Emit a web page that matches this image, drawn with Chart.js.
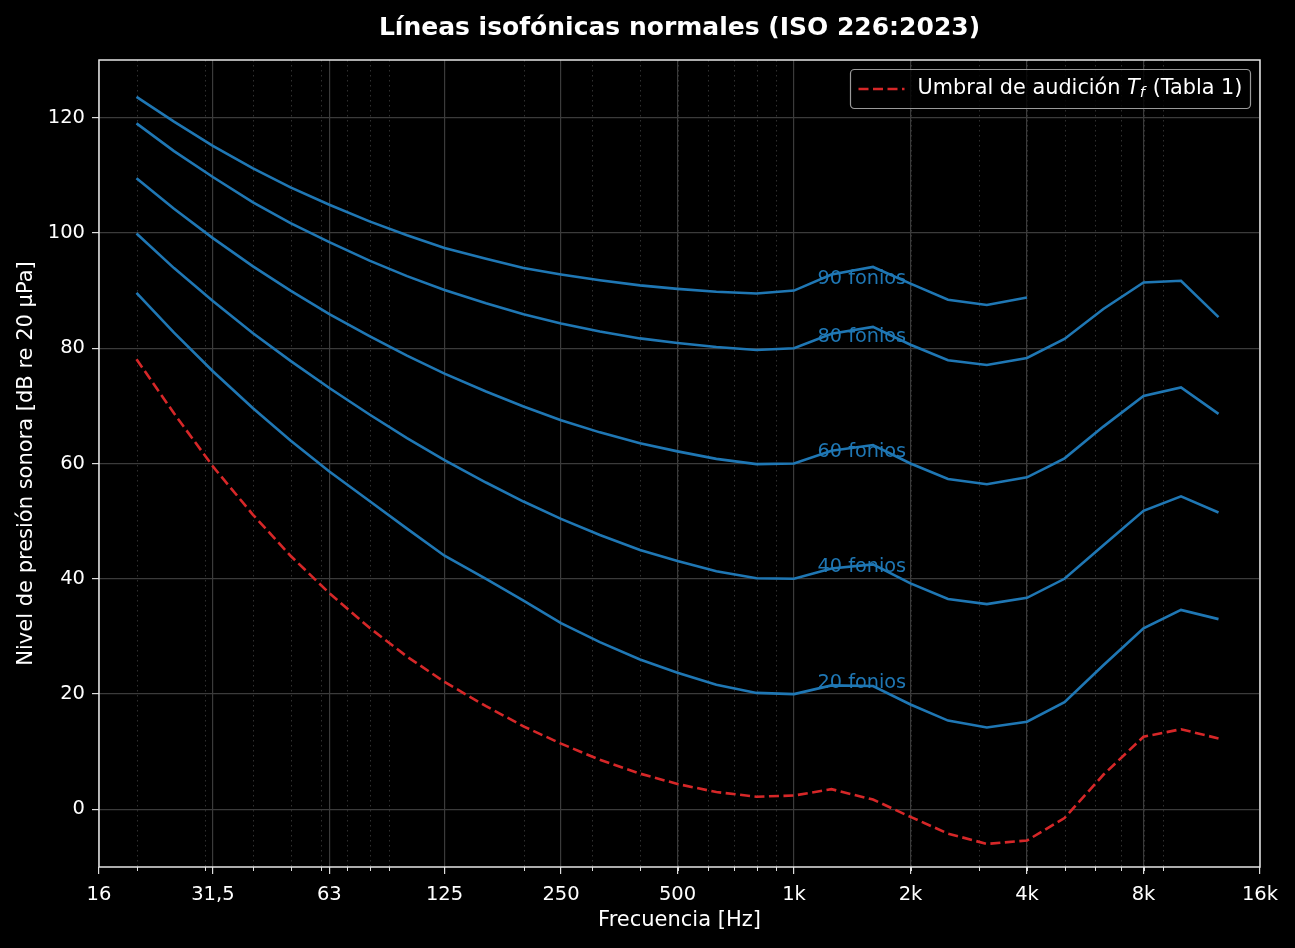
<!DOCTYPE html>
<html>
<head>
<meta charset="utf-8">
<script src="https://cdn.jsdelivr.net/npm/chart.js@4.4.1/dist/chart.umd.min.js"></script>
<style>
  html, body { margin: 0; padding: 0; background: #000; }
  #wrap { width: 1295px; height: 948px; }
</style>
</head>
<body>
<div id="wrap"><canvas id="iso_chart"></canvas></div>
<script>
// frecuencias normalizadas (Hz)
const freqs = [20, 25, 31.5, 40, 50, 63, 80, 100, 125, 160, 200, 250, 315, 400, 500,
    630, 800, 1000, 1250, 1600, 2000, 2500, 3150, 4000, 5000, 6300, 8000, 10000, 12500];

// umbral de audicion Tf (Tabla 1)
const threshold = [78.1, 68.7, 59.5, 51.1, 44.0, 37.5, 31.5, 26.5, 22.1, 17.9, 14.4, 11.4, 8.6, 6.2, 4.4,
    3.0, 2.2, 2.4, 3.5, 1.7, -1.3, -4.2, -6.0, -5.4, -1.5, 6.0, 12.6, 13.9, 12.3];

const phon20 = [89.6, 82.7, 76.0, 69.6, 64.0, 58.6, 53.5, 48.7, 44.0, 40.0, 36.2, 32.3, 29.0, 26.0, 23.7,
    21.6, 20.2, 20.0, 21.5, 21.4, 18.2, 15.4, 14.2, 15.2, 18.6, 25.0, 31.4, 34.6, 33.0];
const phon40 = [99.9, 93.9, 88.2, 82.6, 77.8, 73.1, 68.5, 64.4, 60.6, 56.7, 53.4, 50.4, 47.6, 45.0, 43.1,
    41.3, 40.1, 40.0, 41.8, 42.5, 39.2, 36.5, 35.6, 36.7, 40.0, 45.8, 51.8, 54.3, 51.5];
const phon60 = [109.5, 104.2, 99.1, 94.2, 90.0, 85.9, 82.1, 78.7, 75.6, 72.5, 69.9, 67.5, 65.4, 63.5, 62.1,
    60.8, 59.9, 60.0, 62.2, 63.2, 60.0, 57.3, 56.4, 57.6, 60.9, 66.4, 71.7, 73.2, 68.6];
const phon80 = [119.0, 114.2, 109.7, 105.3, 101.7, 98.4, 95.2, 92.5, 90.1, 87.8, 85.9, 84.3, 82.9, 81.7, 80.9,
    80.2, 79.7, 80.0, 82.5, 83.7, 80.6, 77.9, 77.1, 78.3, 81.6, 86.8, 91.4, 91.7, 85.4];
// 90 fonios solo llega hasta 4 kHz
const phon90 = [123.6, 119.3, 115.1, 111.2, 107.9, 104.9, 102.0, 99.6, 97.4, 95.5, 93.9, 92.8, 91.8, 90.9, 90.3,
    89.8, 89.5, 90.0, 92.8, 94.1, 91.2, 88.4, 87.5, 88.8];

const contours = [
    { phon: 20, values: phon20 },
    { phon: 40, values: phon40 },
    { phon: 60, values: phon60 },
    { phon: 80, values: phon80 },
    { phon: 90, values: phon90 },
];

const xTicks = [16, 31.5, 63, 125, 250, 500, 1000, 2000, 4000, 8000, 16000];
const xTickLabels = ["16", "31,5", "63", "125", "250", "500", "1k", "2k", "4k", "8k", "16k"];
const yTicks = [0, 20, 40, 60, 80, 100, 120];

const labelFreq = 1150;   // donde se escriben las etiquetas "xx fonios"

const FONT = "'DejaVu Sans', 'Liberation Sans', sans-serif";
const BLUE = "#1f77b4";
const RED = "#d62728";
const GRID = "#3b3b3b";

// minor ticks del eje log: 2..9 x 10^n
const minorTicks = [];
for (let d = 10; d <= 1000; d *= 10) {
    for (let m = 2; m <= 9; m++) {
        const v = m * d;
        if (v > 16 && v < 16000) minorTicks.push(v);
    }
}

const toPoints = (vals) => vals.map((v, i) => ({ x: freqs[i], y: v }));

const datasets = contours.map((c) => ({
    label: c.phon + " fonios",
    data: toPoints(c.values),
    borderColor: BLUE,
    backgroundColor: BLUE,
    borderWidth: 2.6,
    pointRadius: 0,
    tension: 0,
    fill: false,
}));
datasets.push({
    label: "Umbral de audición Tf (Tabla 1)",
    data: toPoints(threshold),
    borderColor: RED,
    backgroundColor: RED,
    borderWidth: 2.6,
    borderDash: [10, 4.5],
    pointRadius: 0,
    tension: 0,
    fill: false,
});

const extras = {
    id: "extras",
    beforeDatasetsDraw(chart) {
        const { ctx, chartArea, scales } = chart;
        const xs = scales.x;
        ctx.save();
        // rejilla menor punteada
        ctx.strokeStyle = "#303030";
        ctx.lineWidth = 1;
        ctx.setLineDash([1.5, 3.5]);
        minorTicks.forEach((v) => {
            const px = Math.round(xs.getPixelForValue(v)) + 0.5;
            ctx.beginPath();
            ctx.moveTo(px, chartArea.top);
            ctx.lineTo(px, chartArea.bottom);
            ctx.stroke();
        });
        ctx.setLineDash([]);
        // marcas menores
        ctx.strokeStyle = "#dddddd";
        ctx.lineWidth = 1;
        minorTicks.forEach((v) => {
            const px = Math.round(xs.getPixelForValue(v)) + 0.5;
            ctx.beginPath();
            ctx.moveTo(px, chartArea.bottom);
            ctx.lineTo(px, chartArea.bottom + 4);
            ctx.stroke();
        });
        ctx.restore();
    },
    afterDraw(chart) {
        const { ctx, chartArea, scales } = chart;
        const xs = scales.x, ys = scales.y;
        ctx.save();
        // marco
        ctx.strokeStyle = "#e6e6e6";
        ctx.lineWidth = 1.5;
        ctx.strokeRect(chartArea.left, chartArea.top, chartArea.right - chartArea.left, chartArea.bottom - chartArea.top);

        // etiquetas de cada curva
        ctx.fillStyle = BLUE;
        ctx.font = "19.3px " + FONT;
        ctx.textAlign = "left";
        ctx.textBaseline = "middle";
        contours.forEach((c) => {
            ctx.fillText(c.phon + " fonios", xs.getPixelForValue(labelFreq), ys.getPixelForValue(c.phon + 2));
        });

        // leyenda
        const bx = 850.5, by = 69.5, bw = 400, bh = 39;
        ctx.fillStyle = "rgba(0,0,0,0.8)";
        ctx.strokeStyle = "#9a9a9a";
        ctx.lineWidth = 1.2;
        ctx.beginPath();
        ctx.roundRect(bx, by, bw, bh, 4);
        ctx.fill();
        ctx.stroke();
        const ly = by + bh / 2;
        ctx.strokeStyle = RED;
        ctx.lineWidth = 2.6;
        ctx.setLineDash([10, 4.5]);
        ctx.beginPath();
        ctx.moveTo(bx + 8, ly);
        ctx.lineTo(bx + 54, ly);
        ctx.stroke();
        ctx.setLineDash([]);
        ctx.fillStyle = "#ffffff";
        ctx.textBaseline = "middle";
        let tx = bx + 67;
        const parts = [
            { t: "Umbral de audición ", f: "20.8px " + FONT, dy: 0 },
            { t: "T", f: "italic 20.8px " + FONT, dy: 0 },
            { t: "f", f: "italic 14.8px " + FONT, dy: 4.5 },
            { t: " (Tabla 1)", f: "20.8px " + FONT, dy: 0 },
        ];
        parts.forEach((p) => {
            ctx.font = p.f;
            ctx.fillText(p.t, tx, ly + p.dy);
            tx += ctx.measureText(p.t).width + (p.t === "f" ? 1 : 0);
        });
        ctx.restore();
    },
};

const config = {
    type: "line",
    data: { datasets },
    options: {
        responsive: false,
        animation: false,
        maintainAspectRatio: false,
        layout: { padding: { top: 0, right: 35, left: 0, bottom: 0 } },
        plugins: {
            legend: { display: false },
            tooltip: { enabled: false },
            title: {
                display: true,
                fullSize: false,
                text: "Líneas isofónicas normales (ISO 226:2023)",
                color: "#ffffff",
                font: { family: FONT, size: 25, weight: "bold" },
                padding: { top: 13, bottom: 17 },
            },
        },
        scales: {
            x: {
                type: "logarithmic",
                min: 16,
                max: 16000,
                afterBuildTicks: (scale) => {
                    scale.ticks = xTicks.map((v) => ({ value: v }));
                },
                afterFit: (scale) => { scale.height = 81; },
                ticks: {
                    color: "#ffffff",
                    font: { family: FONT, size: 19.5 },
                    padding: 9,
                    maxRotation: 0,
                    autoSkip: false,
                    callback: (v) => {
                        const i = xTicks.indexOf(v);
                        return i >= 0 ? xTickLabels[i] : "";
                    },
                },
                grid: { color: GRID, lineWidth: 1.2, tickColor: "#dddddd", tickLength: 7 },
                border: { display: false },
                title: {
                    display: true,
                    text: "Frecuencia [Hz]",
                    color: "#ffffff",
                    font: { family: FONT, size: 21 },
                    padding: { top: 6, bottom: 15 },
                },
            },
            y: {
                type: "linear",
                min: -10,
                max: 130,
                afterBuildTicks: (scale) => {
                    scale.ticks = yTicks.map((v) => ({ value: v }));
                },
                afterFit: (scale) => { scale.width = 99; },
                ticks: {
                    color: "#ffffff",
                    font: { family: FONT, size: 19.5 },
                    padding: 7,
                },
                grid: { color: GRID, lineWidth: 1.2, tickColor: "#dddddd", tickLength: 7 },
                border: { display: false },
                title: {
                    display: true,
                    text: "Nivel de presión sonora [dB re 20 µPa]",
                    color: "#ffffff",
                    font: { family: FONT, size: 21 },
                    padding: { top: 13.5, bottom: 6 },
                },
            },
        },
    },
    plugins: [extras],
};

const canvas = document.getElementById("iso_chart");
canvas.width = 1295;
canvas.height = 948;
Chart.defaults.font.family = FONT;
const iso_chart = new Chart(canvas, config);
</script>
</body>
</html>
